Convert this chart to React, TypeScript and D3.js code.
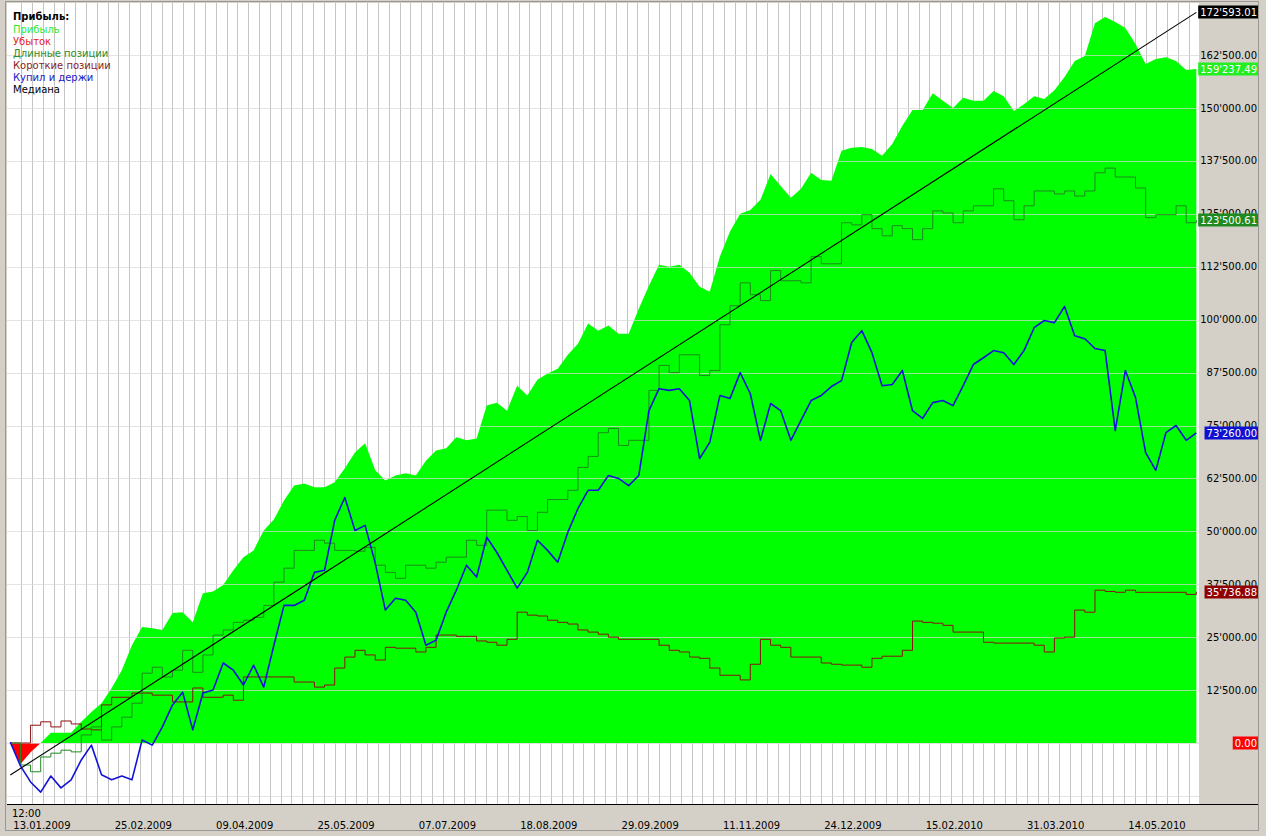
import * as d3 from 'd3'

// all series in thousands, one value every 3rd bar (bar index = i * BAR_STEP)
const BAR_STEP = 3
const LAST_BAR = 351

const PROFIT = [
  0, -5.0, -2.2, 0.0, 2.4, 2.4, 2.4, 5.0, 7.3, 9.4,
  13.0, 17.2, 23.1, 27.4, 27.1, 26.7, 30.7, 30.9, 28.5, 35.4,
  35.8, 37.3, 40.8, 43.9, 45.5, 50.2, 52.8, 57.3, 60.8, 61.3,
  60.4, 60.4, 61.6, 64.9, 68.6, 70.8, 64.4, 62.0, 63.2, 63.7,
  63.2, 66.7, 69.1, 69.6, 72.2, 71.5, 71.9, 79.7, 80.4, 78.5,
  84.4, 82.1, 85.8, 87.3, 88.4, 91.7, 94.3, 99.1, 97.4, 98.6,
  96.7, 96.7, 102.6, 108.0, 113.0, 112.5, 113.0, 111.1, 107.8, 106.6,
  114.9, 120.8, 125.0, 125.9, 128.3, 134.4, 131.6, 128.8, 130.9, 134.7,
  133.0, 132.8, 139.9, 140.6, 140.8, 140.3, 138.7, 141.5, 145.8, 149.5,
  149.5, 153.5, 151.7, 150.0, 152.4, 151.7, 151.7, 154.0, 152.8, 149.3,
  150.9, 152.8, 152.1, 154.2, 157.3, 161.1, 162.3, 170.0, 171.5, 170.3,
  168.9, 165.1, 160.4, 161.6, 162.0, 161.1, 159.0, 159.23749,
]

const LONG = [
  0, -5.2, -6.8, -3.3, -2.4, -1.7, -2.1, 1.9, 3.8, 0.7,
  3.8, 6.1, 9.4, 16.5, 17.9, 15.6, 17.2, 21.9, 16.7, 20.8,
  25.5, 26.7, 28.5, 29.0, 29.7, 32.5, 38.0, 41.3, 45.5, 45.5,
  47.9, 47.2, 45.5, 45.5, 45.3, 46.2, 42.0, 40.3, 38.9, 42.0,
  42.0, 41.3, 42.7, 43.9, 43.9, 47.9, 46.7, 55.0, 55.0, 52.6,
  53.5, 50.2, 54.5, 57.5, 57.5, 59.7, 65.1, 67.7, 73.3, 74.3,
  70.3, 71.5, 71.5, 83.3, 89.2, 87.5, 91.7, 91.7, 86.8, 88.0,
  98.8, 103.3, 108.7, 105.9, 104.5, 111.6, 109.2, 109.2, 108.7, 114.9,
  113.2, 113.2, 122.9, 122.4, 124.8, 121.5, 119.8, 122.2, 121.5, 118.9,
  121.5, 125.7, 125.2, 122.9, 125.7, 126.9, 126.9, 130.9, 128.1, 123.6,
  126.9, 130.4, 130.4, 129.7, 130.4, 129.2, 130.4, 134.7, 135.8, 133.7,
  133.7, 131.1, 124.1, 124.8, 124.8, 126.9, 122.9, 123.50061,
]

const SHORT = [
  0, 0, 4.2, 5.0, 3.8, 5.2, 4.5, 3.3, 3.1, 9.0,
  10.8, 10.8, 11.8, 11.8, 11.3, 11.3, 9.7, 9.7, 13.0, 10.8,
  10.8, 11.3, 10.1, 15.6, 15.6, 15.6, 15.6, 15.6, 14.4, 14.4,
  13.2, 13.7, 17.7, 20.3, 21.9, 20.8, 19.6, 22.6, 22.4, 22.4,
  21.5, 22.6, 25.5, 25.5, 25.2, 25.2, 24.1, 23.8, 23.1, 24.5,
  30.9, 30.2, 30.0, 29.0, 28.5, 28.1, 26.7, 26.2, 25.7, 25.0,
  24.5, 24.5, 24.5, 24.5, 23.1, 21.9, 21.5, 20.3, 20.0, 17.7,
  16.0, 16.0, 14.9, 18.6, 24.5, 23.1, 22.6, 20.3, 20.3, 20.3,
  18.9, 18.6, 18.4, 18.4, 17.9, 20.0, 20.5, 20.5, 21.9, 28.8,
  28.5, 28.3, 27.8, 26.2, 26.2, 26.2, 23.8, 23.6, 23.6, 23.6,
  23.6, 23.1, 21.5, 24.8, 25.0, 31.4, 30.9, 36.1, 35.8, 35.6,
  36.1, 35.6, 35.6, 35.6, 35.6, 35.6, 35.1, 35.73688,
]

const BUY_HOLD = [
  0.2, -5.4, -9.2, -11.6, -7.8, -10.6, -8.7, -4.0, -0.5, -7.5,
  -8.7, -7.8, -8.7, 0.7, -0.5, 3.8, 9.0, 12.0, 3.1, 11.8,
  12.5, 18.9, 17.2, 13.7, 18.4, 13.2, 23.1, 32.5, 32.5, 33.7,
  40.3, 40.8, 52.6, 58.0, 50.2, 51.4, 42.5, 31.4, 34.2, 33.7,
  30.9, 23.1, 24.3, 30.9, 36.1, 42.0, 39.2, 48.6, 45.0, 40.8,
  36.6, 40.3, 47.9, 45.5, 42.7, 49.8, 55.4, 59.7, 59.7, 63.2,
  62.5, 60.8, 63.2, 78.5, 83.7, 83.3, 83.7, 80.9, 67.2, 71.0,
  82.1, 81.4, 87.5, 82.5, 71.5, 80.2, 78.5, 71.5, 76.2, 80.9,
  82.1, 84.2, 85.6, 94.6, 97.4, 92.2, 84.4, 84.7, 88.0, 78.5,
  76.7, 80.4, 80.9, 79.7, 84.4, 89.4, 91.0, 92.7, 92.2, 89.4,
  92.7, 98.1, 99.8, 99.3, 103.1, 96.2, 95.5, 93.2, 92.7, 73.8,
  88.0, 81.6, 68.6, 64.4, 73.3, 75.0, 71.5, 73.26,
]

// regression line, first and last bar
const MEDIAN = [-7.55, 172.59301]

const DATE_LABELS = [
  '13.01.2009', '25.02.2009', '09.04.2009', '25.05.2009', '07.07.2009', '18.08.2009',
  '29.09.2009', '11.11.2009', '24.12.2009', '15.02.2010', '31.03.2010', '14.05.2010',
]
const DATE_EVERY = 30
const TIME_LABEL = '12:00'

const Y_TICKS = [0, 12500, 25000, 37500, 50000, 62500, 75000, 87500, 100000, 112500, 125000, 137500, 150000, 162500]

const LEGEND_TITLE = 'Прибыль:'
const LEGEND = [
  {label: 'Прибыль', color: '#2ee82e'},
  {label: 'Убыток', color: '#e81c1c'},
  {label: 'Длинные позиции', color: '#2a8c2a'},
  {label: 'Короткие позиции', color: '#8c1c1c'},
  {label: 'Купил и держи', color: '#2020c8'},
  {label: 'Медиана', color: '#000000'},
]

const FONT = '"DejaVu Sans", Verdana, sans-serif'
const GREY = '#d4d0c8'

const fmt = d3.formatLocale({decimal: '.', thousands: "'", grouping: [3], currency: ['', '']}).format(',.2f')

let ctx: CanvasRenderingContext2D | null = null
function textWidth(s: string) {
  if (!ctx) ctx = document.createElement('canvas').getContext('2d')
  if (!ctx) return s.length * 6
  ctx.font = `10px ${FONT}`
  return ctx.measureText(s).width
}

export default function App() {
  const width = 1266
  const height = 836
  const plot = {left: 7, top: 3, right: 1199, bottom: 804}

  const x = d3.scaleLinear().domain([0, LAST_BAR]).range([10.3, 10.3 + LAST_BAR * 3.379])
  const y = d3.scaleLinear().domain([0, 150000]).range([743, 108])
  const xi = (_: number, i: number) => x(i * BAR_STEP)

  const gain = d3.area<number>().x(xi).y0(y(0)).y1(d => y(Math.max(d, 0) * 1000))(PROFIT) ?? undefined
  const loss = d3.area<number>().x(xi).y0(y(0)).y1(d => y(Math.min(d, 0) * 1000))(PROFIT) ?? undefined
  const step = d3.line<number>().x(xi).y(d => y(d * 1000)).curve(d3.curveStepAfter)
  const plain = d3.line<number>().x(xi).y(d => y(d * 1000))

  const vGrid = d3.range(3.2, LAST_BAR + 1, 3.2)
  const hGrid = [-12500, ...Y_TICKS]

  const last = (a: number[]) => a[a.length - 1] * 1000
  const tags = [
    {v: MEDIAN[1] * 1000, bg: '#000000'},
    {v: last(PROFIT), bg: '#22ee22'},
    {v: last(LONG), bg: '#1f8a1f'},
    {v: last(BUY_HOLD), bg: '#1010d0'},
    {v: last(SHORT), bg: '#900000'},
    {v: Math.min(last(PROFIT), 0), bg: '#ff0000'},
  ]

  return (
    <svg width={width} height={height} style={{position: 'absolute', left: 0, top: 0}} fontFamily={FONT}>
      <defs>
        <clipPath id="plot">
          <rect x={plot.left} y={plot.top} width={plot.right - plot.left} height={plot.bottom - plot.top} />
        </clipPath>
      </defs>
      <rect width={width} height={height} fill={GREY} />
      <rect x={plot.left} y={plot.top} width={plot.right - plot.left} height={plot.bottom - plot.top} fill="#ffffff" />

      <g clipPath="url(#plot)">
        {vGrid.map(b => (
          <line key={b} x1={Math.round(x(b)) + 0.5} x2={Math.round(x(b)) + 0.5} y1={plot.top} y2={plot.bottom} stroke="#c4c4c4" />
        ))}
        <path d={gain} fill="#00ff00" />
        <path d={loss} fill="#ff0000" />
        {hGrid.map(v => (
          <line key={v} x1={plot.left} x2={plot.right} y1={Math.round(y(v)) + 0.5} y2={Math.round(y(v)) + 0.5} stroke="#d8d8d8" opacity={0.7} />
        ))}
        <path d={step(SHORT) ?? undefined} fill="none" stroke="#8b1010" strokeWidth={1} />
        <path d={step(LONG) ?? undefined} fill="none" stroke="#1e8a1e" strokeWidth={1} />
        <path d={plain(BUY_HOLD) ?? undefined} fill="none" stroke="#1414d8" strokeWidth={1.6} strokeLinejoin="round" />
        <path
          d={d3.line()([
            [x(0), y(MEDIAN[0] * 1000)],
            [x(LAST_BAR), y(MEDIAN[1] * 1000)],
          ]) ?? undefined}
          stroke="#000000"
          strokeWidth={1.1}
        />
      </g>

      {/* legend */}
      <g fontSize={10}>
        <text x={13} y={20} fontWeight={700} fill="#000">{LEGEND_TITLE}</text>
        {LEGEND.map((d, i) => (
          <text key={d.label} x={13} y={33 + i * 12} fill={d.color}>{d.label}</text>
        ))}
      </g>

      {/* right axis */}
      <g fontSize={10} fill="#000" textAnchor="end">
        {Y_TICKS.map(v => (
          <text key={v} x={1257} y={y(v) + 3.5}>{fmt(v)}</text>
        ))}
      </g>
      {tags.map(t => {
        const label = fmt(t.v)
        const w = textWidth(label) + 3
        const cy = Math.round(y(t.v))
        return (
          <g key={t.bg}>
            <rect x={1258 - w} y={cy - 6.5} width={w} height={13} fill={t.bg} />
            <text x={1257} y={cy + 3.5} fontSize={10} fill="#fff" textAnchor="end">{label}</text>
          </g>
        )
      })}

      {/* bottom axis */}
      <line x1={plot.left} x2={1258} y1={plot.bottom + 0.5} y2={plot.bottom + 0.5} stroke="#000" />
      <g fontSize={10} fill="#000">
        <text x={12} y={817}>{TIME_LABEL}</text>
        {DATE_LABELS.map((d, i) => (
          <text key={d} x={x(i * DATE_EVERY) + 3} y={829}>{d}</text>
        ))}
      </g>

      <rect x={5.5} y={1.5} width={1253} height={829} fill="none" stroke="#606060" strokeDasharray="1,1" />
    </svg>
  )
}
